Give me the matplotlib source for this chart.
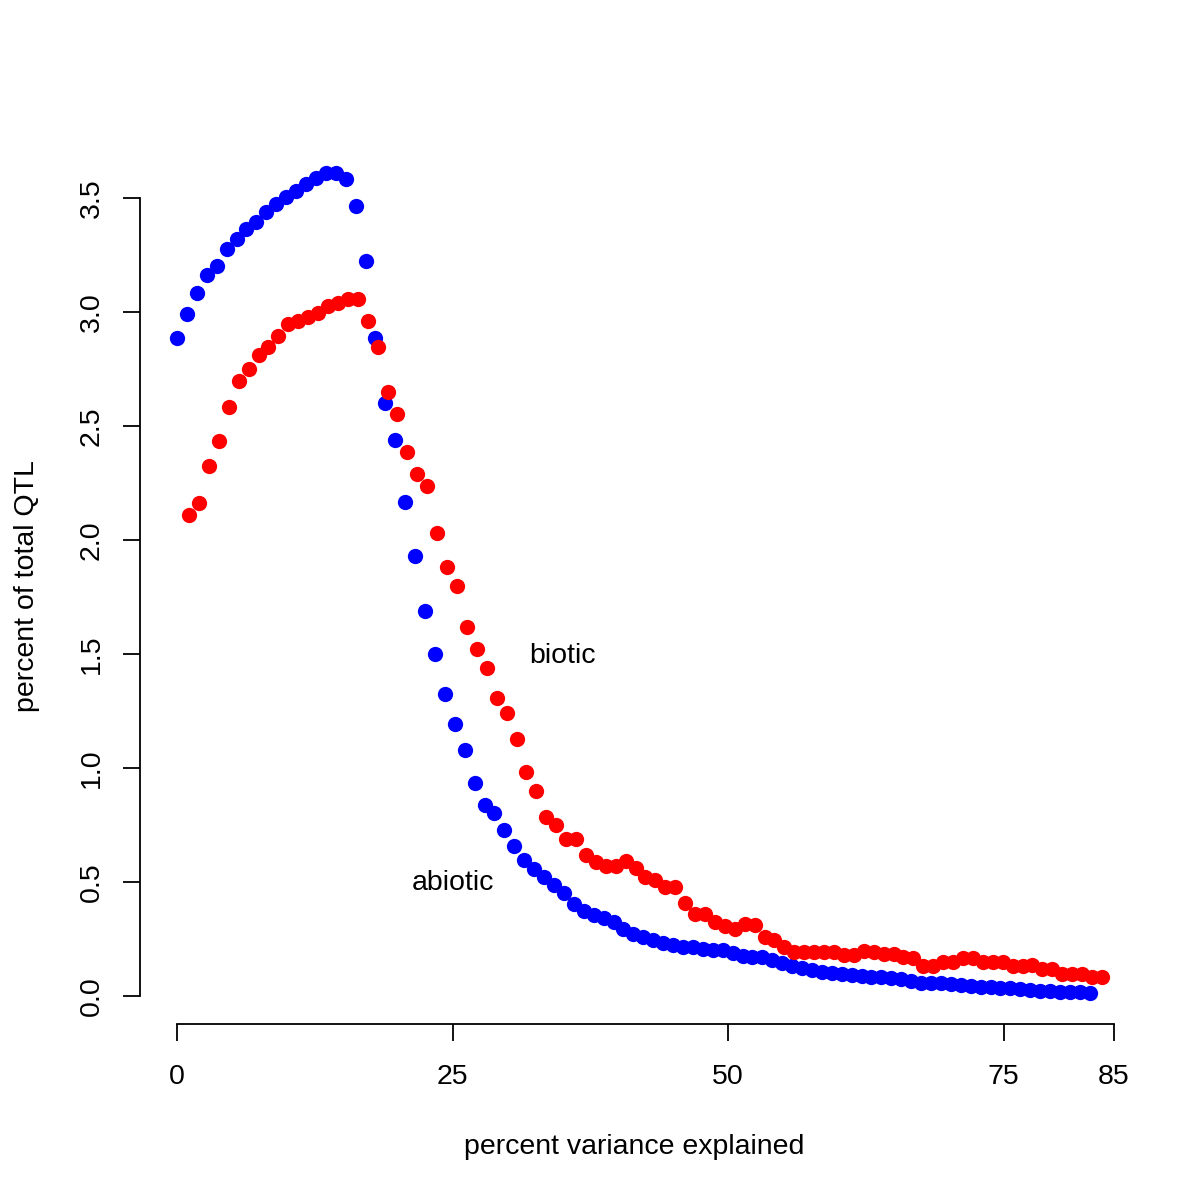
import numpy as np
import matplotlib
matplotlib.use('Agg')
import matplotlib.pyplot as plt

plt.rcParams['font.family'] = ['Liberation Sans', 'DejaVu Sans']

# percent of total QTL (one value per grid step)
abiotic_y = [2.887, 2.990, 3.082, 3.162, 3.203, 3.276, 3.319, 3.363, 3.396, 3.437,
             3.474, 3.506, 3.531, 3.560, 3.586, 3.608, 3.608, 3.583, 3.466, 3.224,
             2.885, 2.602, 2.439, 2.168, 1.930, 1.689, 1.499, 1.325, 1.192, 1.079,
             0.936, 0.838, 0.804, 0.728, 0.658, 0.596, 0.556, 0.523, 0.487, 0.453,
             0.402, 0.373, 0.355, 0.341, 0.323, 0.294, 0.271, 0.260, 0.246, 0.234,
             0.224, 0.214, 0.216, 0.205, 0.202, 0.202, 0.190, 0.175, 0.172, 0.172,
             0.158, 0.143, 0.133, 0.124, 0.114, 0.107, 0.102, 0.096, 0.092, 0.088,
             0.085, 0.082, 0.080, 0.073, 0.067, 0.058, 0.056, 0.056, 0.051, 0.048,
             0.044, 0.041, 0.038, 0.036, 0.034, 0.029, 0.026, 0.023, 0.022, 0.019,
             0.016, 0.016, 0.015]

biotic_y = [2.110, 2.161, 2.325, 2.436, 2.585, 2.699, 2.749, 2.811, 2.848, 2.895,
            2.946, 2.961, 2.979, 2.994, 3.026, 3.041, 3.058, 3.058, 2.961, 2.848,
            2.650, 2.551, 2.387, 2.289, 2.238, 2.029, 1.880, 1.798, 1.620, 1.521,
            1.440, 1.308, 1.243, 1.126, 0.981, 0.899, 0.786, 0.750, 0.687, 0.687,
            0.618, 0.586, 0.571, 0.571, 0.593, 0.560, 0.523, 0.509, 0.477, 0.479,
            0.409, 0.358, 0.358, 0.326, 0.307, 0.293, 0.314, 0.311, 0.260, 0.246,
            0.216, 0.194, 0.194, 0.194, 0.194, 0.194, 0.180, 0.180, 0.199, 0.194,
            0.184, 0.184, 0.170, 0.165, 0.132, 0.132, 0.150, 0.150, 0.165, 0.165,
            0.150, 0.150, 0.150, 0.132, 0.132, 0.136, 0.117, 0.117, 0.095, 0.095,
            0.095, 0.082, 0.082]

# percent variance explained: regular grid, step 0.9
step = 0.9
abiotic_x = np.arange(len(abiotic_y)) * step
biotic_x = 1.1 + np.arange(len(biotic_y)) * step

x_ticks = [0, 25, 50, 75, 85]
y_ticks = [0.0, 0.5, 1.0, 1.5, 2.0, 2.5, 3.0, 3.5]

fs = 20.5

fig = plt.figure(figsize=(12, 12), dpi=100)
# axes placed so that 0..85 spans px 177..1114 and 0..3.5 spans px 996..198
ax = fig.add_axes([140 / 1200, (1200 - 1024) / 1200, 1000 / 1200, 864 / 1200])
ax.set_xlim(0 - 37 / 11.024, 85 + 26 / 11.024)
ax.set_ylim(0 - 28 / 228.3, 3.5 + 38 / 228.3)

ax.plot(abiotic_x, abiotic_y, 'o', color='#0000ff', markersize=11, markeredgewidth=0)
ax.plot(biotic_x, biotic_y, 'o', color='#ff0000', markersize=11, markeredgewidth=0)

ax.text(35, 1.49, 'biotic', fontsize=fs, ha='center', va='center')
ax.text(25, 0.495, 'abiotic', fontsize=fs, ha='center', va='center')

for s in ['top', 'right']:
    ax.spines[s].set_visible(False)
ax.spines['left'].set_bounds(0, 3.5)
ax.spines['bottom'].set_bounds(0, 85)
ax.spines['left'].set_linewidth(1.3)
ax.spines['bottom'].set_linewidth(1.3)

ax.set_xticks(x_ticks)
ax.set_xticklabels([str(t) for t in x_ticks])
ax.set_yticks(y_ticks)
ax.set_yticklabels(['%.1f' % t for t in y_ticks], rotation=90, va='center')
ax.tick_params(axis='x', length=12.5, width=1.3, pad=16, labelsize=fs)
ax.tick_params(axis='y', length=12.5, width=1.3, pad=13, labelsize=fs)

ax.set_xlabel('percent variance explained', fontsize=fs)
ax.set_ylabel('percent of total QTL', fontsize=fs)
ax.xaxis.set_label_coords(0.4945, -110 / 864)
ax.yaxis.set_label_coords(-100 / 1000, 0.507)

fig.savefig('out.png', dpi=100)
